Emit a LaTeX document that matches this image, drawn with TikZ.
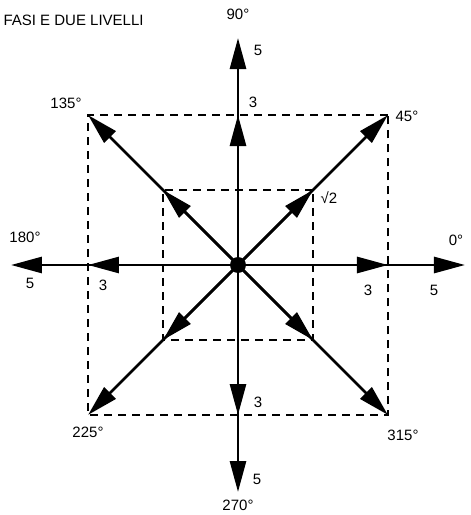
\documentclass[tikz,border=0pt]{standalone}
\usepackage{fontspec}
\setmainfont{Liberation Sans}
\usetikzlibrary{arrows.meta}
\begin{document}
\begin{tikzpicture}[x=1pt, y=1pt, font=\fontsize{15}{17}\selectfont,
    vec/.style={line width=2.8pt, -{Triangle[length=31pt,width=16pt]}},
    grid/.style={line width=1.5pt, dash pattern=on 8pt off 6pt},
    lbl/.style={inner sep=1pt}]
    \useasboundingbox (-238,-250) rectangle (233,265);
    \coordinate (O) at (0,0);

    % Levels: 3 and 5 on the axes, inner and outer corners on the diagonals
    \foreach \a in {0,90,180,270} {
        \coordinate (in\a) at (\a:150);
        \coordinate (out\a) at (\a:227);
    }
    \foreach \a in {45,135,225,315} {
        \coordinate (in\a) at (\a:106);
        \coordinate (out\a) at (\a:212);
    }

    % Dashed squares
    \draw[grid] (out45) -- (out135) -- (out225) -- (out315) -- cycle;
    \draw[grid] (in45) -- (in135) -- (in225) -- (in315) -- cycle;

    % Vectors
    \foreach \a in {0,45,...,315} {
        \draw[vec] (O) -- (out\a);
        \draw[vec] (O) -- (in\a);
    }
    \fill (O) circle (8);

    % Labels
    \node[anchor=west] (title) at (-238,245) {FASI E DUE LIVELLI};
    \node[lbl] (l90) at (0,251) {90°};
    \node[lbl] (l0) at (218,25) {0°};
    \node[lbl] (l180) at (-213,28) {180°};
    \node[lbl] (l270) at (0,-240) {270°};
    \node[lbl] (l45) at (169,149) {45°};
    \node[lbl] (l135) at (-172,162) {135°};
    \node[lbl] (l225) at (-150,-167) {225°};
    \node[lbl] (l315) at (165,-170) {315°};
    \node[lbl] (n5u) at (20,215) {5};
    \node[lbl] (n3u) at (15,163) {3};
    \node[lbl] (n5l) at (-208,-18) {5};
    \node[lbl] (n3l) at (-135,-20) {3};
    \node[lbl] (n3r) at (130,-25) {3};
    \node[lbl] (n5r) at (196,-25) {5};
    \node[lbl] (n3d) at (20,-137) {3};
    \node[lbl] (n5d) at (19,-214) {5};
    \node[lbl] (rt2) at (91,67) {√2};
\end{tikzpicture}
\end{document}
